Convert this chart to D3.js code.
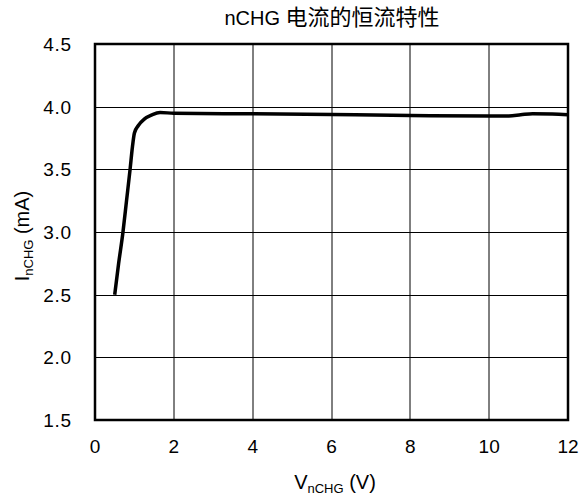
<!DOCTYPE html>
<meta charset="utf-8">
<script src="https://cdn.jsdelivr.net/npm/d3@7"></script>
<style>
body{margin:0;background:#fff;}
text{font-family:"Liberation Sans",Arial,sans-serif;fill:#000;}
</style>
<div id="vis"></div>
<script>
// curve points
var vnchg = [0.5, 0.6, 0.71, 0.8, 0.89, 0.95, 1.0, 1.1, 1.25, 1.45, 1.65, 2, 4, 6, 8, 10, 10.5, 10.8, 11.1, 11.6, 12];
var inchg = [2.5, 2.75, 3.0, 3.25, 3.5, 3.68, 3.79, 3.85, 3.9, 3.935, 3.953, 3.948, 3.943, 3.937, 3.93, 3.925, 3.926, 3.935, 3.944, 3.942, 3.936];
var xTicks = [0, 2, 4, 6, 8, 10, 12];
var yTicks = [1.5, 2.0, 2.5, 3.0, 3.5, 4.0, 4.5];

var width = 582, height = 503;
var pLeft = 95, pRight = 568, pTop = 44, pBottom = 420;

var svg = d3.select("#vis").append("svg")
    .attr("width", width)
    .attr("height", height);

var x = d3.scaleLinear().domain([0, 12]).range([pLeft, pRight]);
var y = d3.scaleLinear().domain([1.5, 4.5]).range([pBottom, pTop]);

// grid
var grid = svg.append("g");
grid.selectAll(".v").data(xTicks.slice(1, -1)).enter().append("line")
    .attr("x1", function(d){ return Math.round(x(d)); })
    .attr("x2", function(d){ return Math.round(x(d)); })
    .attr("y1", pTop).attr("y2", pBottom)
    .attr("stroke", "#000").attr("stroke-width", 1);
grid.selectAll(".h").data(yTicks.slice(1, -1)).enter().append("line")
    .attr("y1", function(d){ return Math.round(y(d)) + 0.5; })
    .attr("y2", function(d){ return Math.round(y(d)) + 0.5; })
    .attr("x1", pLeft).attr("x2", pRight)
    .attr("stroke", "#000").attr("stroke-width", 1)
    .style("shape-rendering", "crispEdges");

// frame
svg.append("rect")
    .attr("x", pLeft).attr("y", pTop)
    .attr("width", pRight - pLeft).attr("height", pBottom - pTop)
    .attr("fill", "none").attr("stroke", "#000").attr("stroke-width", 2.5);

// tick labels
svg.selectAll(".xt").data(xTicks).enter().append("text")
    .attr("x", function(d){ return x(d); })
    .attr("y", 453)
    .attr("text-anchor", "middle")
    .style("font-size", "19px")
    .text(function(d){ return d; });
svg.selectAll(".yt").data(yTicks).enter().append("text")
    .attr("x", 72)
    .attr("y", function(d){ return y(d) + 7; })
    .attr("text-anchor", "end")
    .style("font-size", "19px")
    .style("letter-spacing", "0.8px")
    .text(function(d){ return d3.format(".1f")(d); });

// curve
var pts = vnchg.map(function(v, i){ return [v, inchg[i]]; });
var line = d3.line()
    .x(function(d){ return x(d[0]); })
    .y(function(d){ return y(d[1]); })
    .curve(d3.curveMonotoneX);
svg.append("path")
    .datum(pts)
    .attr("d", line)
    .attr("fill", "none")
    .attr("stroke", "#000")
    .attr("stroke-width", 3.5)
    .attr("stroke-linejoin", "round");

// title
var title = svg.append("text")
    .attr("x", 332).attr("y", 25)
    .attr("text-anchor", "middle")
    .style("font-size", "20px");
title.append("tspan").text("nCHG ");
title.append("tspan")
    .style("font-family", "'Noto Sans CJK SC'")
    .style("font-size", "22px")
    .text("电流的恒流特性");

// axis labels
var xl = svg.append("text")
    .attr("x", 335).attr("y", 489)
    .attr("text-anchor", "middle")
    .style("font-size", "20px");
xl.append("tspan").text("V");
xl.append("tspan").attr("dy", 4).style("font-size", "13px").text("nCHG");
xl.append("tspan").attr("dy", -4).text(" (V)");

var yl = svg.append("text")
    .attr("transform", "translate(29,236) rotate(-90)")
    .attr("text-anchor", "middle")
    .style("font-size", "20px");
yl.append("tspan").text("I");
yl.append("tspan").attr("dy", 4).style("font-size", "13px").text("nCHG");
yl.append("tspan").attr("dy", -4).text(" (mA)");
</script>
